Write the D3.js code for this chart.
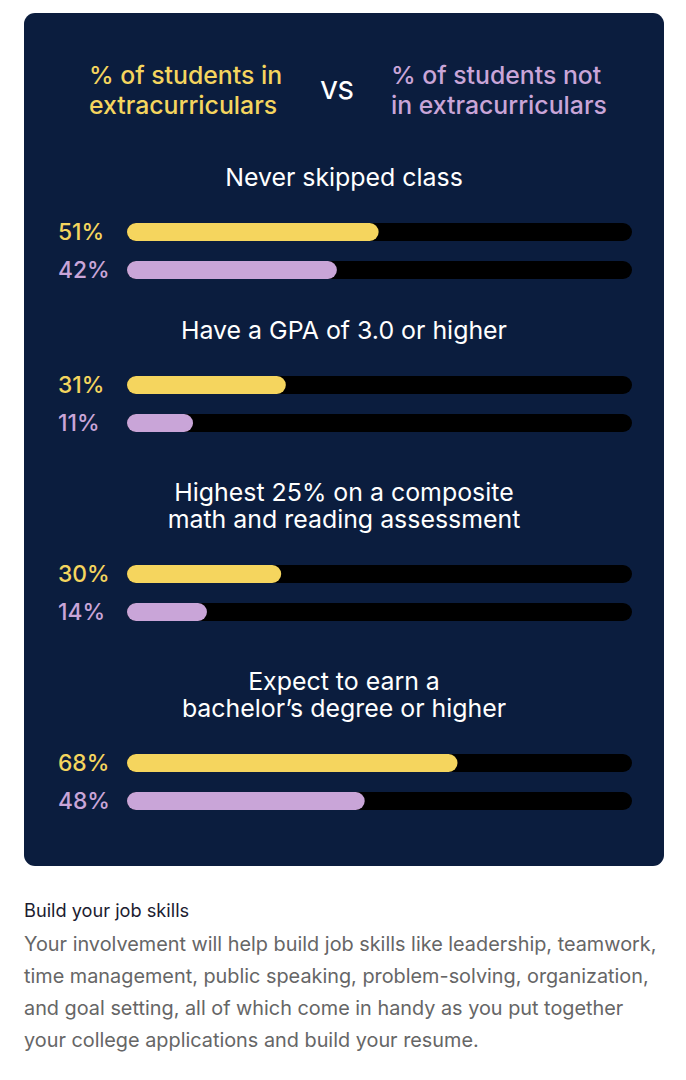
<!DOCTYPE html>
<html><head><meta charset="utf-8">
<script src="https://cdn.jsdelivr.net/npm/d3@7"></script>
<style>
html,body{margin:0;padding:0;background:#fff;}
svg{display:block;}
</style></head>
<body>
<div id="chart"></div>
<script>
const categories = [
  ["Never skipped class"],
  ["Have a GPA of 3.0 or higher"],
  ["Highest 25% on a composite", "math and reading assessment"],
  ["Expect to earn a", "bachelor\u2019s degree or higher"]
];
const inExtra = [51, 31, 30, 68];
const notExtra = [42, 11, 14, 48];
const seriesNames = [["% of students in", "extracurriculars"], ["% of students not", "in extracurriculars"]];
const heading = "Build your job skills";
const paragraph = [
  "Your involvement will help build job skills like leadership, teamwork,",
  "time management, public speaking, problem-solving, organization,",
  "and goal setting, all of which come in handy as you put together",
  "your college applications and build your resume."
];

const W = 686, H = 1080;
const svg = d3.select("#chart").append("svg").attr("width", W).attr("height", H);
const FONT = "Inter, Roboto, 'Noto Sans', sans-serif";
const yellow = "#f5d55e", purple = "#c9a5d8";

svg.append("rect").attr("x", 24).attr("y", 13).attr("width", 640).attr("height", 853)
  .attr("rx", 11).attr("fill", "#0b1d3e");

// header
const hdr = svg.append("g").attr("font-family", FONT).attr("font-size", 24.8).attr("font-weight", 500);
seriesNames[0].forEach((t, i) => hdr.append("text").attr("x", 89).attr("y", 75 + i * 30).attr("dy", "0.35em").attr("fill", yellow).text(t));
seriesNames[1].forEach((t, i) => hdr.append("text").attr("x", 391).attr("y", 75 + i * 30).attr("dy", "0.35em").attr("fill", purple).text(t));
hdr.append("text").attr("x", 337).attr("y", 90).attr("dy", "0.35em").attr("text-anchor", "middle").attr("fill", "#fff").text("VS");

const trackStart = 127, trackEnd = 632;
const x = d3.scaleLinear().domain([0, 100]).range([142, 606]);
const barH = 18;
const groupTop = [177, 330, 492, 681];
const lineGap = 27;

categories.forEach((lines, gi) => {
  const g = svg.append("g");
  lines.forEach((t, li) => g.append("text")
    .attr("x", 344).attr("y", groupTop[gi] + li * lineGap).attr("dy", "0.35em")
    .attr("text-anchor", "middle").attr("fill", "#fff")
    .attr("font-family", FONT).attr("font-size", 24.9).text(t));
  const lastLine = groupTop[gi] + (lines.length - 1) * lineGap;
  const rows = [[inExtra[gi], yellow], [notExtra[gi], purple]];
  rows.forEach(([v, c], ri) => {
    const cy = lastLine + 55 + ri * 38;
    g.append("rect").attr("x", trackStart).attr("y", cy - barH / 2).attr("width", trackEnd - trackStart).attr("height", barH)
      .attr("rx", barH / 2).attr("fill", "#000");
    g.append("rect").attr("x", trackStart).attr("y", cy - barH / 2).attr("width", x(v) - trackStart).attr("height", barH)
      .attr("rx", barH / 2).attr("fill", c);
    g.append("text").attr("x", 58).attr("y", cy).attr("dy", "0.36em")
      .attr("fill", c).attr("font-family", FONT).attr("font-size", 22.8).attr("font-weight", 500)
      .text(v + "%");
  });
});

svg.append("text").attr("x", 24).attr("y", 917).attr("font-family", FONT).attr("font-size", 18.2)
  .attr("fill", "#1c1c30").text(heading);
paragraph.forEach((t, i) => svg.append("text").attr("x", 24).attr("y", 951 + i * 32)
  .attr("font-family", FONT).attr("font-size", 19.85).attr("fill", "#666").text(t));
</script>
</body></html>
